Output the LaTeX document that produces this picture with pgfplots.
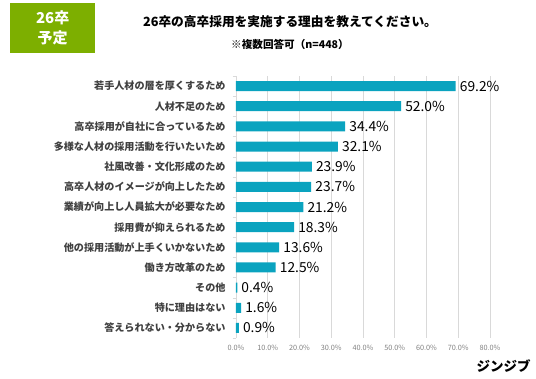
\documentclass[border=0pt]{standalone}
\usepackage{pgfplots}
\pgfplotsset{compat=1.18}
\usepackage{fontspec}
\setmainfont{Noto Sans CJK JP}
\definecolor{barc}{HTML}{0AA3BF}
\definecolor{boxc}{HTML}{7DAF00}
\definecolor{gridc}{HTML}{D9D9D9}
\definecolor{tickc}{HTML}{808080}
\definecolor{catc}{HTML}{404040}
\begin{document}
\begin{tikzpicture}[x=1pt,y=1pt]
\path[use as bounding box] (0,0) rectangle (536,378);
\fill[boxc] (10,325.3) rectangle (95.3,374.7);
\node[text=white,font=\fontsize{15}{17}\selectfont\bfseries] at (52.7,359.7) {26卒};
\node[text=white,font=\fontsize{15}{17}\selectfont\bfseries] at (52.7,339.7) {予定};
\node[font=\fontsize{12.7}{14}\selectfont\bfseries] at (290,356) {26卒の高卒採用を実施する理由を教えてください。};
\node[font=\fontsize{10.6}{12}\selectfont\bfseries] at (290,334) {※複数回答可（n=448）};
\node[font=\fontsize{13.5}{15}\selectfont\bfseries] at (503.5,12.3) {ジンジブ};
\begin{axis}[
  at={(236pt,40pt)}, anchor=south west,
  scale only axis, width=254pt, height=262pt,
  xbar, bar width=10pt,
  xmin=0, xmax=80, ymin=-0.5, ymax=12.5, y dir=reverse,
  xtick={0,10,...,80},
  xticklabels={0.0\%,10.0\%,20.0\%,30.0\%,40.0\%,50.0\%,60.0\%,70.0\%,80.0\%},
  ytick={0,...,12},
  yticklabels={若手人材の層を厚くするため,人材不足のため,高卒採用が自社に合っているため,多様な人材の採用活動を行いたいため,社風改善・文化形成のため,高卒人材のイメージが向上したため,業績が向上し人員拡大が必要なため,採用費が抑えられるため,他の採用活動が上手くいかないため,働き方改革のため,その他,特に理由はない,答えられない・分からない},
  minor ytick={-0.5,0.5,...,12.5},
  major tick length=0pt, minor tick length=3pt,
  tick align=outside,
  minor tick style={gridc},
  xmajorgrids, grid style={gridc, line width=0.9pt},
  axis line style={draw=none},
  separate axis lines,
  axis y line*=left, y axis line style={draw=gridc},
  axis x line*=bottom, x axis line style={draw=none},
  xticklabel style={font=\fontsize{7.3}{8}\selectfont, text=tickc, yshift=-4pt},
  yticklabel style={font=\fontsize{10.1}{11}\selectfont\bfseries, text=catc, xshift=-7pt},
  /pgf/number format/assume math mode=true,
  point meta=x,
  nodes near coords={\pgfmathprintnumber[fixed,fixed zerofill,precision=1]{\pgfplotspointmeta}\%},
  nodes near coords style={font=\fontsize{13.8}{15}\selectfont, anchor=west, inner sep=1pt, xshift=3pt, text=black},
]
\addplot[fill=barc, draw=none] coordinates {
(69.2,0) (52.0,1) (34.4,2) (32.1,3) (23.9,4) (23.7,5) (21.2,6) (18.3,7) (13.6,8) (12.5,9) (0.4,10) (1.6,11) (0.9,12)
};
\end{axis}
\end{tikzpicture}
\end{document}
